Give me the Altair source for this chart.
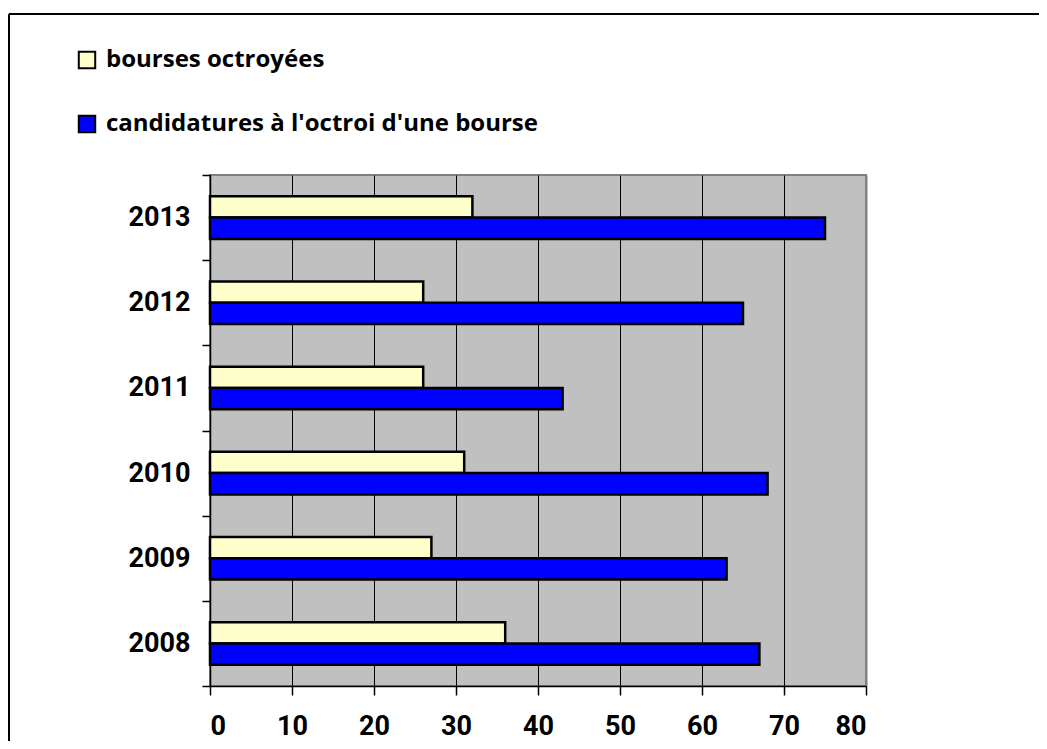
import altair as alt
import pandas as pd

years = ["2008", "2009", "2010", "2011", "2012", "2013"]
octroyees = [36, 27, 31, 26, 26, 32]
candidatures = [67, 63, 68, 43, 65, 75]
series = ["bourses octroyées", "candidatures à l'octroi d'une bourse"]
colors = ["#FFFFCC", "#0000FF"]
x_ticks = [0, 10, 20, 30, 40, 50, 60, 70, 80]

rows = []
for yr, a, b in zip(years, octroyees, candidatures):
    rows.append({"year": yr, "series": series[0], "value": a})
    rows.append({"year": yr, "series": series[1], "value": b})
df = pd.DataFrame(rows)

tick_font = "Roboto, Liberation Sans, sans-serif"
legend_font = "Open Sans, Lato, sans-serif"

bars = alt.Chart(df).mark_bar(stroke="black", strokeWidth=2.5).encode(
    y=alt.Y(
        "year:N",
        sort=years[::-1],
        scale=alt.Scale(padding=0),
        axis=alt.Axis(
            title=None, tickBand="extent", tickSize=8, labelPadding=12,
            domainColor="black", domainWidth=1.5, tickColor="black", tickWidth=1.5,
            labelFont=tick_font, labelFontSize=27, labelFontWeight="bold",
            labelColor="black",
        ),
    ),
    yOffset=alt.YOffset(
        "series:N", sort=series,
        scale=alt.Scale(paddingInner=0, paddingOuter=1),
    ),
    x=alt.X(
        "value:Q",
        scale=alt.Scale(domain=[0, 80], nice=False),
        axis=alt.Axis(
            values=x_ticks, title=None, grid=True,
            gridColor={"condition": {"test": "datum.value === 80", "value": "#808080"}, "value": "black"},
            gridWidth={"condition": {"test": "datum.value === 80", "value": 2}, "value": 1},
            tickSize=9, labelPadding=18, domainColor="black", domainWidth=1.5,
            tickColor="black", tickWidth=1.5,
            labelFont=tick_font, labelFontSize=27, labelFontWeight="bold",
            labelColor="black",
        ),
    ),
    color=alt.Color(
        "series:N", sort=series,
        scale=alt.Scale(domain=series, range=colors),
        legend=alt.Legend(
            orient="none", legendX=-135, legendY=-127, title=None,
            direction="vertical",
            symbolType="square", symbolSize=270, symbolStrokeColor="black",
            symbolStrokeWidth=2, symbolOpacity=1,
            labelFont=legend_font, labelFontSize=24, labelFontWeight="bold",
            labelColor="black", rowPadding=38, padding=0, labelOffset=7,
            labelLimit=0,
        ),
    ),
)

frame_data = alt.Data(values=[{"a": 1}])
top_line = alt.Chart(frame_data).mark_rule(color="black", strokeWidth=2).encode(
    x=alt.value(-201), x2=alt.value(840), y=alt.value(-161)
)
left_line = alt.Chart(frame_data).mark_rule(color="black", strokeWidth=2).encode(
    x=alt.value(-201), y=alt.value(-161), y2=alt.value(580)
)

chart = alt.layer(bars, top_line, left_line).properties(
    width=656,
    height=511,
    padding={"left": 202, "top": 167, "right": 173, "bottom": 55},
    autosize=alt.AutoSizeParams(type="none"),
    background="white",
).configure_view(
    fill="#C0C0C0", stroke="#808080", strokeWidth=2
)

chart.save("out.html", embed_options={"renderer": "svg", "actions": False})
